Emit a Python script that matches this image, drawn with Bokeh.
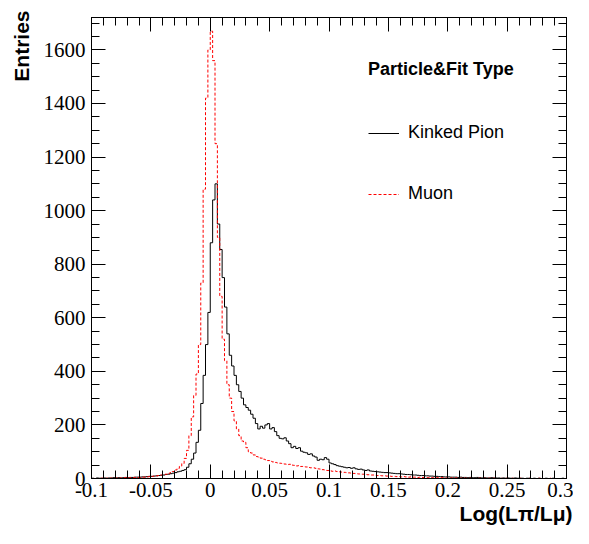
import numpy as np
from bokeh.plotting import figure
from bokeh.models import (Range1d, LinearAxis, FixedTicker, CustomJSTickFormatter,
                          Title, Legend, LegendItem)
from bokeh.embed import file_html
from bokeh.resources import INLINE

# ---------------- data ----------------
x_start = -0.1
bin_width = 0.002

muon_counts = [
    0, 1, 0, 1, 1, 0, 1, 2, 1, 1, 2, 1, 2, 2, 3, 2, 3, 3, 4, 4,
    4, 5, 5, 6, 7, 8, 9, 10, 11, 13,
    14, 16, 19, 22, 26,
    32, 38, 46, 56, 75, 105, 160, 230, 310, 390, 500, 730, 1080, 1420, 1600,
    1670, 1560, 1250, 900, 680, 520, 440, 350, 300, 250, 215, 185, 160, 140, 135, 115, 100, 95, 88, 82,
    80, 76, 72, 70, 67, 64, 62, 60, 58, 57, 56, 54, 52, 53, 50, 49, 47, 48, 45, 44,
    43, 41, 40, 40, 38, 36, 35, 33, 31, 30,
    29, 27, 28, 26, 25, 24, 23, 22, 21, 20, 19, 18, 17, 16, 16, 15, 14, 13, 13, 12,
    11, 11, 10, 10, 9, 9,
    8, 8, 7, 7, 6, 7, 6, 5, 6, 5, 5, 4, 5, 4, 4, 3, 4, 3, 3, 3, 2, 3, 2, 2,
    2, 2, 1, 2, 1, 1, 2, 1, 1, 1, 1, 0, 1, 1, 0, 1, 0, 1, 0, 1,
    0, 0, 1, 0, 1, 0, 0, 1, 0, 0, 1, 0, 0, 0, 1, 0, 0, 0, 1, 0,
    0, 0, 0, 1, 0, 0, 0, 0, 0, 0,
]

pion_counts = [
    1, 0, 2, 1, 1, 2, 1, 2, 2, 3, 2, 3, 2, 3, 4, 3, 4, 4, 5, 5,
    5, 6, 6, 7, 8, 8, 9, 10, 11, 12,
    13, 15, 16, 18, 20,
    22, 25, 27, 30, 33, 42, 55, 72, 95, 135, 180, 280, 385, 500, 620,
    880, 1040, 1100, 950, 855, 750, 640, 540, 460, 420, 385, 350, 325, 300, 275, 265, 255, 240, 225, 205,
    185, 195, 188, 200, 205, 185, 190, 175, 160, 150, 148, 152, 140, 130, 115, 120, 112, 115, 102, 98,
    96, 90, 92, 84, 80, 68, 72, 70, 78, 72,
    58, 55, 52, 48, 46, 44, 42, 40, 41, 38, 40, 36, 34, 35, 32, 30, 32, 28, 27, 26,
    25, 24, 23, 22, 22, 21,
    20, 19, 18, 18, 17, 16, 15, 15, 14, 13, 13, 12, 11, 11, 10, 10, 9, 9, 8, 8, 7, 7, 6, 6,
    6, 5, 5, 5, 4, 5, 4, 4, 3, 4, 3, 3, 4, 3, 2, 3, 2, 2, 3, 2,
    2, 2, 1, 2, 1, 2, 1, 1, 2, 1, 1, 1, 0, 1, 1, 0, 1, 0, 1, 0,
    0, 1, 0, 0, 1, 0, 0, 0, 1, 0,
]

x_major_ticks = [-0.1, -0.05, 0.0, 0.05, 0.1, 0.15, 0.2, 0.25, 0.3]
y_major_ticks = [0, 200, 400, 600, 800, 1000, 1200, 1400, 1600]
x_limits = (-0.1, 0.3)
y_limits = (0, 1721)

series_names = ["Kinked Pion", "Muon"]
legend_title = "Particle&Fit Type"
x_title = "Log(L\u03c0/L\u03bc)"
y_title = "Entries"

# ---------------- figure ----------------
p = figure(width=573, height=528, output_backend="svg", toolbar_location=None,
           x_range=Range1d(*x_limits), y_range=Range1d(*y_limits),
           min_border_left=91, min_border_right=7, min_border_top=17, min_border_bottom=50)
p.grid.visible = False
p.outline_line_color = "black"
p.background_fill_color = "white"
p.border_fill_color = "white"

def step_arrays(counts):
    edges = x_start + bin_width * np.arange(len(counts) + 1)
    ys = list(counts) + [counts[-1]]
    return edges, ys

xe_p, ye_p = step_arrays(pion_counts)
xe_m, ye_m = step_arrays(muon_counts)
r_pion = p.step(xe_p, ye_p, mode="after", line_color="black", line_width=1)
r_muon = p.step(xe_m, ye_m, mode="after", line_color="#ff0000", line_width=1,
                line_dash="3 2")

# ---------------- axes ----------------
x_minor = list(np.round(np.linspace(x_limits[0], x_limits[1], 41), 4))
y_minor = list(range(0, 1721, 50))

def style_axis(ax):
    ax.major_tick_in = 14
    ax.major_tick_out = 0
    ax.minor_tick_in = 8
    ax.minor_tick_out = 0
    ax.axis_line_color = "black"
    ax.major_tick_line_color = "black"
    ax.minor_tick_line_color = "black"
    ax.axis_line_width = 1
    ax.major_label_text_font = "Liberation Serif"
    ax.major_label_text_font_size = "21px"
    ax.major_label_text_color = "black"

xfmt = CustomJSTickFormatter(code="return String(Math.round(tick*1000)/1000)")
yfmt = CustomJSTickFormatter(code="return String(Math.round(tick))")
nofmt = CustomJSTickFormatter(code="return ''")

xa = p.xaxis[0]
xa.ticker = FixedTicker(ticks=x_major_ticks, minor_ticks=x_minor)
xa.formatter = xfmt
style_axis(xa)
xa.major_label_standoff = 4

ya = p.yaxis[0]
ya.ticker = FixedTicker(ticks=y_major_ticks, minor_ticks=y_minor)
ya.formatter = yfmt
style_axis(ya)
ya.major_label_standoff = 6

for side, ticks, minor in (("above", x_major_ticks, x_minor), ("right", y_major_ticks, y_minor)):
    ax = LinearAxis(ticker=FixedTicker(ticks=ticks, minor_ticks=minor), formatter=nofmt)
    style_axis(ax)
    ax.major_label_standoff = 0
    ax.axis_label_standoff = 0
    ax.major_label_text_font_size = "1px"
    p.add_layout(ax, side)

# ---------------- axis titles ----------------
title_font = "Liberation Sans"
p.add_layout(Title(text=y_title, align="right", vertical_align="bottom",
                   standoff=15, offset=-7, text_font=title_font, text_font_style="bold",
                   text_font_size="21px", text_color="black"), "left")
p.add_layout(Title(text=x_title, align="right", vertical_align="bottom",
                   standoff=0, offset=-6, text_font=title_font, text_font_style="bold",
                   text_font_size="21px", text_color="black"), "below")

# ---------------- legend ----------------
legend = Legend(items=[LegendItem(label=series_names[0], renderers=[r_pion]),
                       LegendItem(label=series_names[1], renderers=[r_muon])],
                location=(277, 274), title=legend_title,
                title_text_font=title_font, title_text_font_style="bold",
                title_text_font_size="18px", title_standoff=42, title_text_color="black",
                label_text_font=title_font, label_text_font_size="18px",
                label_text_color="black",
                glyph_width=31, glyph_height=20, label_height=20, label_standoff=9,
                spacing=40, padding=0, margin=0,
                border_line_alpha=0, background_fill_alpha=0)
p.add_layout(legend)

open("out.html", "w").write(file_html(p, INLINE))
